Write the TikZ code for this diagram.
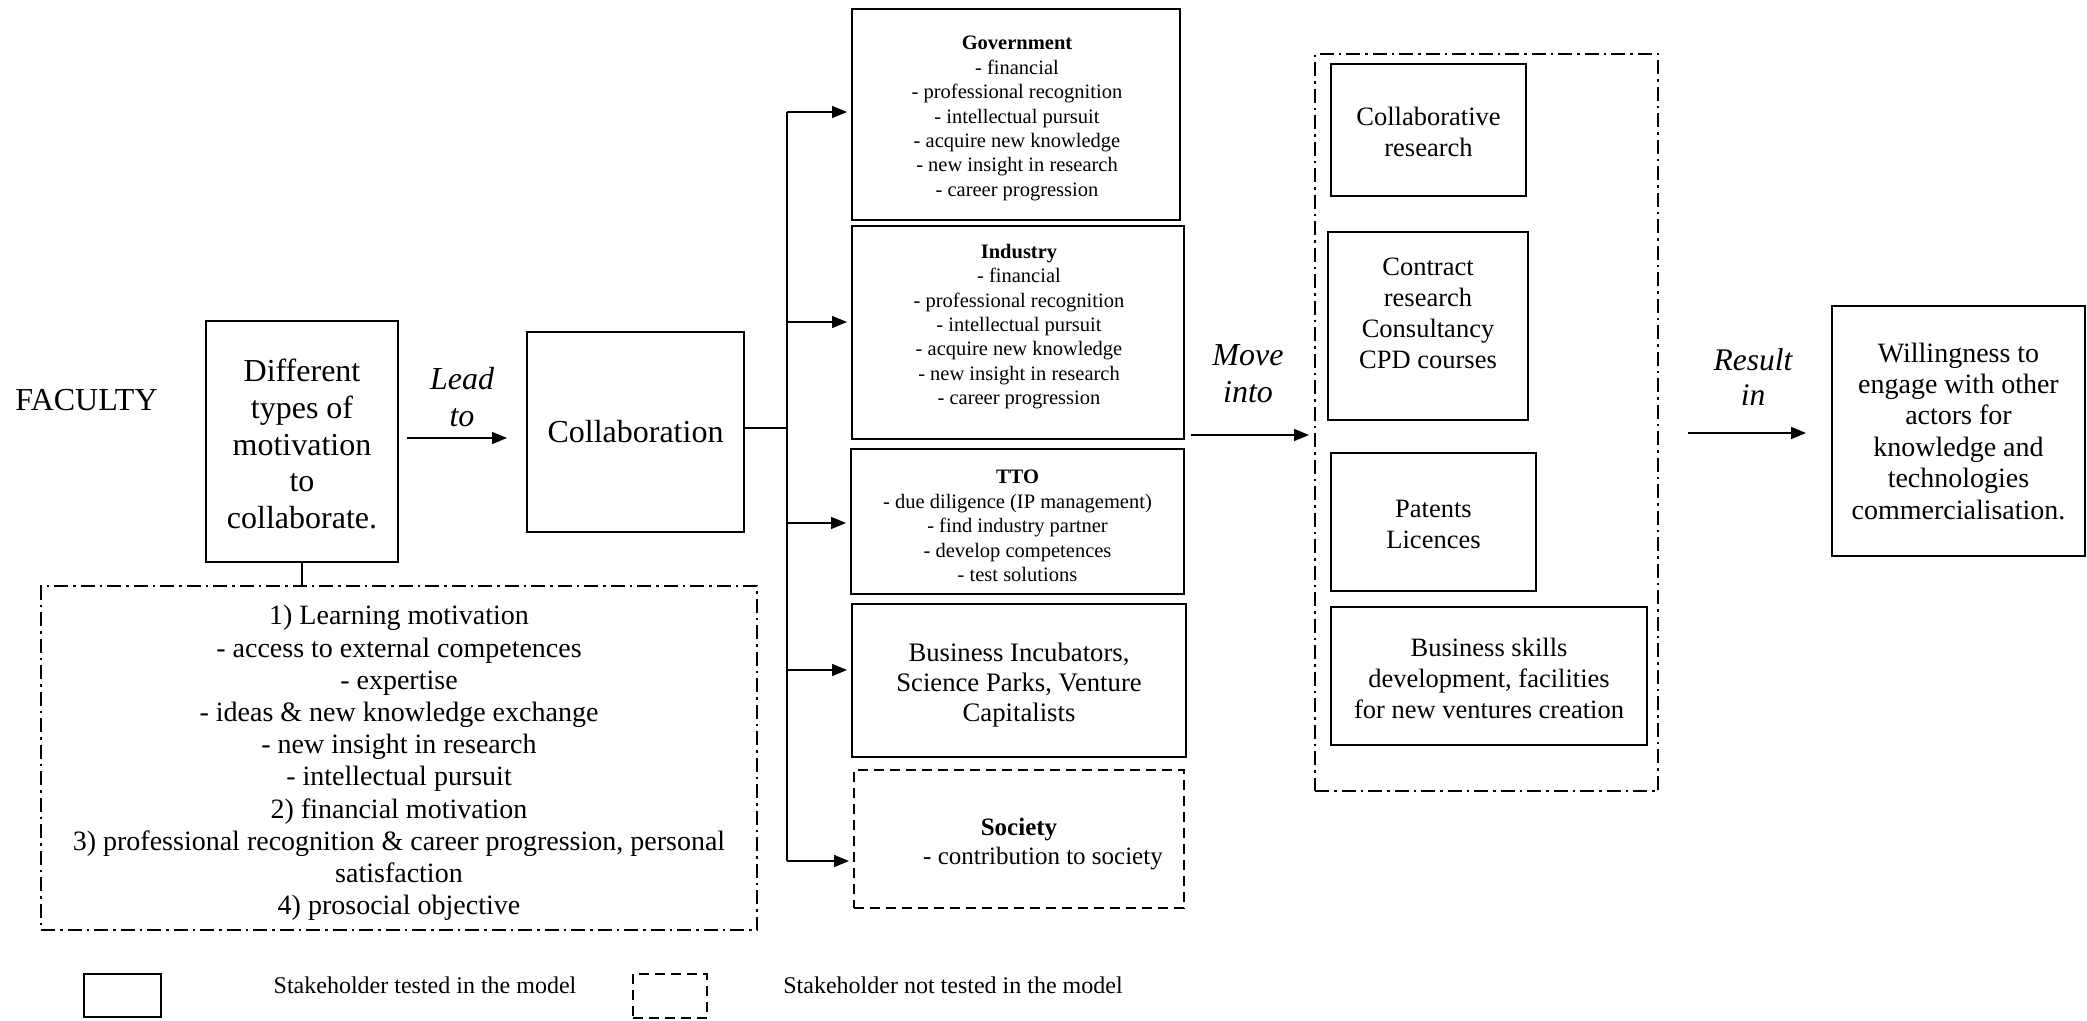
\documentclass[tikz,border=0pt]{standalone}
\usepackage{fontspec}
\setmainfont{Liberation Serif}
\usetikzlibrary{arrows.meta,calc}
\begin{document}
\begin{tikzpicture}[x=1pt,y=-1pt,
 box/.style={draw,line width=2pt,inner sep=0pt,align=center},
 dbox/.style={box,dash pattern=on 10pt off 6pt},
 ddbox/.style={box,dash pattern=on 14pt off 5pt on 2.5pt off 5pt},
 txt/.style={align=center,inner sep=0pt},
 fbig/.style={font=\fontsize{32}{36.6}\selectfont},
 fmid/.style={font=\fontsize{28}{32.2}\selectfont},
 fr/.style={font=\fontsize{26.5}{31}\selectfont},
 fsmall/.style={font=\fontsize{20.5}{24.4}\selectfont},
 flegend/.style={font=\fontsize{24}{28}\selectfont},
 lab/.style={font=\fontsize{32}{37}\selectfont\itshape,align=center},
 arr/.style={line width=1.5pt,-{Triangle[length=15pt,width=12pt]}},
 conn/.style={line width=1.5pt}]

\useasboundingbox (0,0) rectangle (2087,1020);

% left part
\node[fbig] (fac) at (86.5,400) {FACULTY};
\node[box,minimum width=192pt,minimum height=241pt] (mot) at (302,441.5) {};
\node[txt,fbig] (mott) at (302,444) {Different\\types of\\motivation\\to\\collaborate.};
\node[box,fbig,minimum width=217pt,minimum height=200pt] (collab) at (635.5,432) {Collaboration};
\node[ddbox,minimum width=716pt,minimum height=344pt] (mlist) at (399,758) {};
\node[txt,fmid] (mlistt) at (399,763)
  {1) Learning motivation\\- access to external competences\\- expertise\\- ideas \& new knowledge exchange\\- new insight in research\\- intellectual pursuit\\2) financial motivation\\3) professional recognition \& career progression, personal\\satisfaction\\4) prosocial objective};
\draw[conn] (mot.south) -- (mot.south |- mlist.north);

\node[lab] (lead) at (462,397) {Lead\\to};
\coordinate (la) at (398,438);
\draw[arr,shorten <=8pt,shorten >=19pt] (mot.east |- la) -- (collab.west |- la);

% stakeholders
\node[box,minimum width=328pt,minimum height=211pt] (gov) at (1016,114.5) {};
\node[txt,fsmall] (govt) at (1017,118.5)
  {\textbf{Government}\\- financial\\- professional recognition\\- intellectual pursuit\\- acquire new knowledge\\- new insight in research\\- career progression};
\node[box,minimum width=332pt,minimum height=213pt] (ind) at (1018,332.5) {};
\node[txt,fsmall] (indt) at (1019,326.5)
  {\textbf{Industry}\\- financial\\- professional recognition\\- intellectual pursuit\\- acquire new knowledge\\- new insight in research\\- career progression};
\node[box,minimum width=333pt,minimum height=145pt] (tto) at (1017.5,521.5) {};
\node[txt,fsmall] (ttot) at (1017.5,526)
  {\textbf{TTO}\\- due diligence (IP management)\\- find industry partner\\- develop competences\\- test solutions};
\node[box,minimum width=334pt,minimum height=153pt] (bic) at (1019,680.5) {};
\node[txt,font=\fontsize{26.7}{30}\selectfont] (bict) at (1019,685)
  {Business Incubators,\\Science Parks, Venture\\Capitalists};
\node[dbox,minimum width=330pt,minimum height=138pt] (soc) at (1019,839) {};
\node[txt,font=\fontsize{25}{29}\selectfont] (soct) at (1019,844)
  {\textbf{Society}\\\hspace*{48pt}- contribution to society};

% bus
\coordinate (j) at (787,428);
\coordinate (bt) at (787,112);
\coordinate (b2) at (787,322);
\coordinate (b3) at (787,523);
\coordinate (b4) at (787,670);
\coordinate (bb) at (787,861);
\draw[conn] (collab.east |- j) -- (j);
\draw[conn] (bt) -- (bb);
\draw[arr,shorten >=4pt] (bt) -- (bt -| gov.west);
\draw[arr,shorten >=4pt] (b2) -- (b2 -| ind.west);
\draw[arr,shorten >=4pt] (b3) -- (b3 -| tto.west);
\draw[arr,shorten >=4pt] (b4) -- (b4 -| bic.west);
\draw[arr,shorten >=4pt] (bb) -- (bb -| soc.west);

% outcomes
\node[ddbox,minimum width=343pt,minimum height=737pt] (outer) at (1486.5,422.5) {};
\node[box,minimum width=195pt,minimum height=132pt] (cr) at (1428.5,130) {};
\node[txt,fr] (crt) at (1428.5,131.5) {Collaborative\\research};
\node[box,minimum width=200pt,minimum height=188pt] (con) at (1428,326) {};
\node[txt,fr] (cont) at (1428,313) {Contract\\research\\Consultancy\\CPD courses};
\node[box,minimum width=205pt,minimum height=138pt] (pat) at (1433.5,522) {};
\node[txt,fr] (patt) at (1433.5,524.7) {Patents\\Licences};
\node[box,minimum width=316pt,minimum height=138pt] (bsd) at (1489,676) {};
\node[txt,fr] (bsdt) at (1489,678.7)
  {Business skills\\development, facilities\\for new ventures creation};

\node[lab] (move) at (1248,373.5) {Move\\into};
\coordinate (mi) at (1190,435);
\draw[arr,shorten <=6pt,shorten >=5pt] (ind.east |- mi) -- (outer.west |- mi);

% result
\node[box,font=\fontsize{28}{31.4}\selectfont,minimum width=253pt,minimum height=250pt] (will) at (1958.5,431)
  {Willingness to\\engage with other\\actors for\\knowledge and\\technologies\\commercialisation.};
\node[lab,font=\fontsize{31.5}{35}\selectfont\itshape] (res) at (1753,377.5) {Result\\in};
\coordinate (ri) at (1687,433);
\draw[arr,shorten <=29pt,shorten >=25pt] (outer.east |- ri) -- (will.west |- ri);

% legend
\node[box,minimum width=77pt,minimum height=43pt] (leg1) at (122.5,995.5) {};
\node[flegend] (leg1t) at (425,985) {Stakeholder tested in the model};
\node[dbox,minimum width=74pt,minimum height=44pt] (leg2) at (670,996) {};
\node[flegend] (leg2t) at (953,985) {Stakeholder not tested in the model};
\end{tikzpicture}
\end{document}
